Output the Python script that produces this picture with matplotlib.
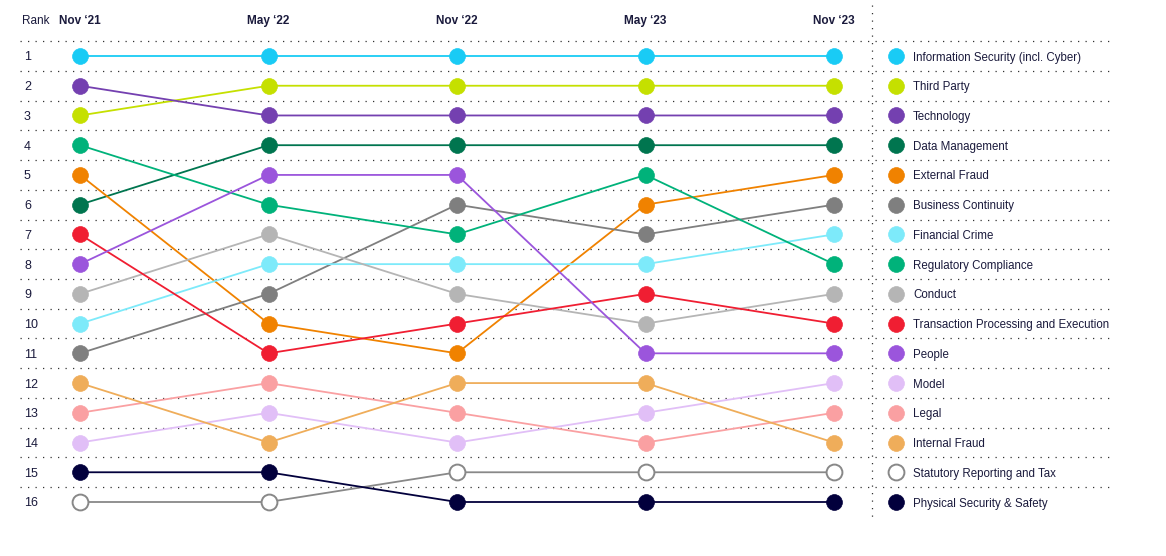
import matplotlib

matplotlib.use("Agg")
import matplotlib.pyplot as plt

periods = ["Nov \u201821", "May \u201822", "Nov \u201822", "May \u201823", "Nov \u201823"]

risks = [
    "Information Security (incl. Cyber)",
    "Third Party",
    "Technology",
    "Data Management",
    "External Fraud",
    "Business Continuity",
    "Financial Crime",
    "Regulatory Compliance",
    "Conduct",
    "Transaction Processing and Execution",
    "People",
    "Model",
    "Legal",
    "Internal Fraud",
    "Statutory Reporting and Tax",
    "Physical Security & Safety",
]

ranks = [
    [1, 1, 1, 1, 1],
    [3, 2, 2, 2, 2],
    [2, 3, 3, 3, 3],
    [6, 4, 4, 4, 4],
    [5, 10, 11, 6, 5],
    [11, 9, 6, 7, 6],
    [10, 8, 8, 8, 7],
    [4, 6, 7, 5, 8],
    [9, 7, 9, 10, 9],
    [7, 11, 10, 9, 10],
    [8, 5, 5, 11, 11],
    [14, 13, 14, 13, 12],
    [13, 12, 13, 14, 13],
    [12, 14, 12, 12, 14],
    [16, 16, 15, 15, 15],
    [15, 15, 16, 16, 16],
]

colors = [
    "#19CBF5", "#C5E000", "#7440B0", "#00754F", "#F08200", "#7F7F7F",
    "#7DEAFA", "#00B27A", "#B5B5B5", "#F01E32", "#9B55DC", "#E1BFF7",
    "#FAA0A2", "#EFAD5A", "#FFFFFF", "#02003C",
]

n_ranks = 16
text_color = "#1A1A3C"
font = "Liberation Sans"

W, H = 1166, 556
fig = plt.figure(figsize=(W / 100, H / 100), dpi=100)
ax = fig.add_axes([0, 0, 1, 1])

# pixel layout -> data units
x0_px, x4_px = 80, 834
x_unit = (x4_px - x0_px) / 4
y1_px, y16_px = 56, 502
y_unit = (y16_px - y1_px) / 15


def px_x(p):
    return (p - x0_px) / x_unit


def px_y(p):
    return 1 + (p - y1_px) / y_unit


ax.set_xlim(px_x(0), px_x(W))
ax.set_ylim(px_y(H), px_y(0))
ax.axis("off")

# dotted row separators
for r in range(n_ranks):
    ax.plot([px_x(20), px_x(1113)], [r + 0.5, r + 0.5], color="#333333",
            lw=0.9, ls=(0, (1, 5)), zorder=0)
ax.plot([px_x(872), px_x(872)], [px_y(5), px_y(517)], color="#333333",
        lw=0.9, ls=(0, (1, 5)), zorder=0)

xs = list(range(len(periods)))
for name, rk, c in zip(risks, ranks, colors):
    hollow = c == "#FFFFFF"
    line_c = "#888888" if hollow else c
    ax.plot(xs, rk, color=line_c, lw=1.3, zorder=2)
    ax.scatter(xs, rk, s=130, facecolor=c, edgecolor=line_c,
               linewidth=1.4 if hollow else 0.5, zorder=3)

txt = dict(va="center_baseline", color=text_color, family=font)
head = dict(va="baseline", color=text_color, family=font, fontsize=8.5)

# headers
ax.text(px_x(36), px_y(24), "Rank", ha="center", **head)
for i, p in enumerate(periods):
    ax.text(i, px_y(24), p, ha="center", fontweight="bold", **head)

# rank labels
for r in range(1, n_ranks + 1):
    ax.text(px_x(24), r, str(r), ha="left", fontsize=9, **txt)

# legend, ordered by latest rank
order = sorted(range(len(risks)), key=lambda k: ranks[k][-1])
for pos, k in enumerate(order, start=1):
    c = colors[k]
    hollow = c == "#FFFFFF"
    edge = "#888888" if hollow else c
    ax.scatter([px_x(896)], [pos], s=130, facecolor=c, edgecolor=edge,
               linewidth=1.4 if hollow else 0.5, zorder=3)
    ax.text(px_x(913), pos, risks[k], ha="left", fontsize=8.3, **txt)

fig.savefig("out.png", dpi=100)
